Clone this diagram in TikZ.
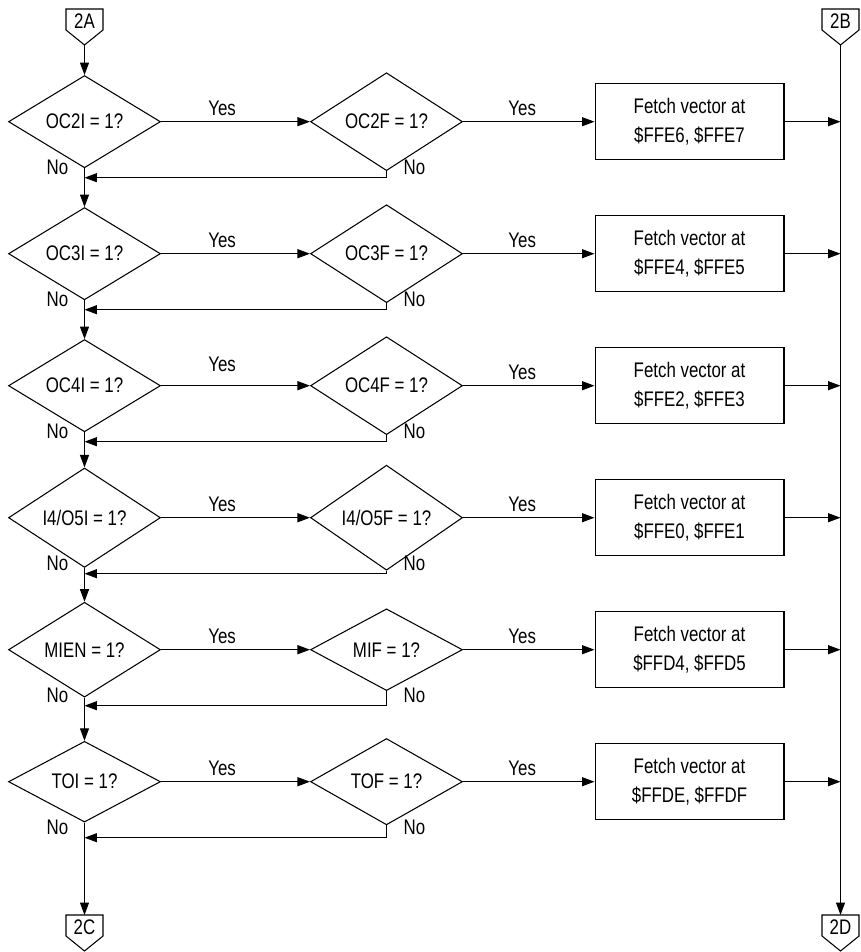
\documentclass[tikz,border=0pt]{standalone}
\usepackage{fontspec}
\setmainfont{Liberation Sans}[FakeStretch=0.8]
\usetikzlibrary{shapes.geometric,arrows.meta}
\tikzset{
  decision/.style={draw,diamond,inner sep=0pt,minimum width=3.04cm,minimum height=1.5cm},
  fetchbox/.style={draw,rectangle,minimum width=3.78cm,minimum height=1.52cm,align=center},
  flow/.style={-{Triangle[length=2.5mm,width=1.8mm]}},
  lbl/.style={inner sep=0pt},
}
\newcommand{\offpage}[4]{%
  \draw (#2-18.5,#3)--(#2+18.5,#3)--(#2+18.5,#3+21)--(#2,#3+36)--(#2-18.5,#3+21)--cycle;
  \node[lbl] (#1) at (#2,#3+12) {#4};
  \coordinate (#1top) at (#2,#3);
  \coordinate (#1tip) at (#2,#3+36);}

\begin{document}
\begin{tikzpicture}[
  x=0.02cm,y=-0.02cm,
  line width=0.6pt,
  font=\fontsize{12}{16}\selectfont,
]
\useasboundingbox (0,0) rectangle (860,952);

% ===== OFF-PAGE CONNECTORS =====
\offpage{pA}{84.5}{9}{2A}
\offpage{pB}{840.5}{9}{2B}
\offpage{pC}{84.5}{915}{2C}
\offpage{pD}{840.5}{915}{2D}

% ===== ROWS =====
\foreach \i/\a/\b/\v/\r in {
  1/OC2I/OC2F/{\$FFE6, \$FFE7}/0,
  2/OC3I/OC3F/{\$FFE4, \$FFE5}/0,
  3/OC4I/OC4F/{\$FFE2, \$FFE3}/4.5,
  4/I4\slash O5I/I4\slash O5F/{\$FFE0, \$FFE1}/0,
  5/MIEN/MIF/{\$FFD4, \$FFD5}/0,
  6/TOI/TOF/{\$FFDE, \$FFDF}/0}{
  \pgfmathsetmacro{\yy}{121.7+132*(\i-1)}
  \node[decision] (da\i) at (84.5,\yy) {\a{} = 1?};
  \node[decision] (db\i) at (386.5,\yy) {\b{} = 1?};
  \node[fetchbox] (box\i) at (689.5,\yy) {Fetch vector at\\\v};
  \node (noa\i) at (57.5,\yy+46) {No};
  \node (nob\i) at (414.5,\yy+46) {No};
  \coordinate (j\i) at (84.5,\yy+56);
  \coordinate (r\i) at (840.5,\yy);
  \draw[flow] (da\i.east) -- node[above,pos=0.41,yshift=\r pt] {Yes} (db\i.west);
  \draw[flow] (db\i.east) -- node[above,pos=0.45] {Yes} (box\i.west);
  \draw[flow] (box\i.east) -- (r\i);
  \draw[flow] (db\i.south) |- (j\i);
}

% ===== MAIN LINE =====
\draw[flow] (pAtip) -- (da1.north);
\foreach \i/\j in {1/2,2/3,3/4,4/5,5/6}
  \draw[flow] (da\i.south) -- (da\j.north);
\draw[flow] (da6.south) -- (pCtop);

% ===== RETURN LINE =====
\draw[flow] (pBtip) -- (pDtop);

\end{tikzpicture}
\end{document}
